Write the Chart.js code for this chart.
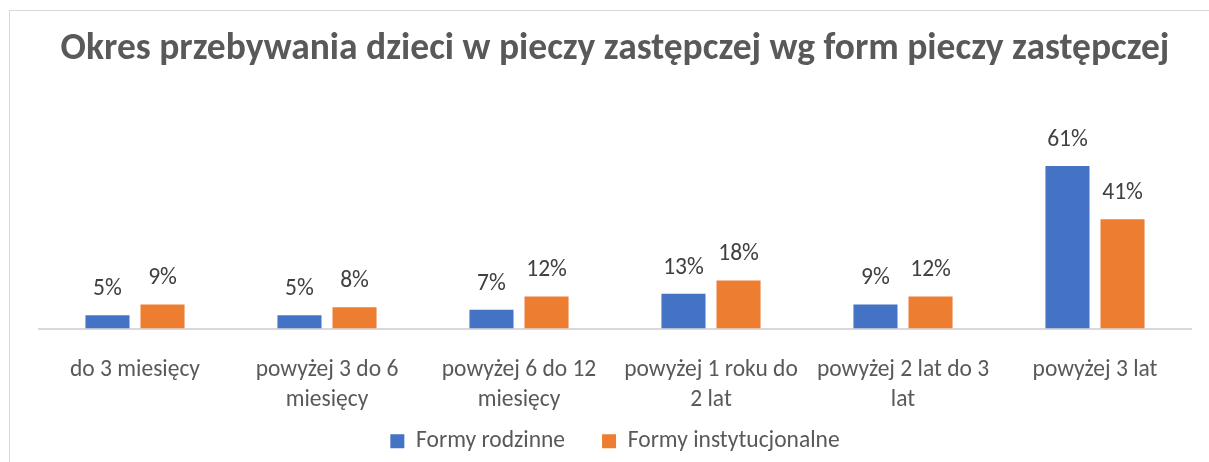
<!DOCTYPE html>
<html lang="pl">
<head>
<meta charset="utf-8">
<title>Okres przebywania dzieci w pieczy zastępczej</title>
<script src="https://cdn.jsdelivr.net/npm/chart.js@4/dist/chart.umd.min.js"></script>
<style>
  html, body { margin: 0; padding: 0; background: #fff; overflow: hidden; }
  .chart-box {
    position: absolute; left: 9px; top: 10px;
    width: 1212px; height: 502px;
    border: 1px solid #d9d9d9;
  }
  canvas { display: block; }
</style>
</head>
<body>
<div class="chart-box"><canvas id="okresChart" width="1212" height="502"></canvas></div>
<script>
// ─── DATA ──────────────────────────────────────────────────
const TITLE = 'Okres przebywania dzieci w pieczy zastępczej wg form pieczy zastępczej';

const categories = [
  ['do 3 miesięcy'],
  ['powyżej 3 do 6', 'miesięcy'],
  ['powyżej 6 do 12', 'miesięcy'],
  ['powyżej 1 roku do', '2 lat'],
  ['powyżej 2 lat do 3', 'lat'],
  ['powyżej 3 lat'],
];

const formyRodzinne        = [5, 5, 7, 13, 9, 61];
const formyInstytucjonalne = [9, 8, 12, 18, 12, 41];

const seriesNames = ['Formy rodzinne', 'Formy instytucjonalne'];

// ─── STYLE ─────────────────────────────────────────────────
const FONT   = "'Carlito', 'Lato', sans-serif";
const BLUE   = '#4472C4';
const ORANGE = '#ED7D31';
const TEXT_SIZE = 23.5;

// fit the bold title to the width it takes in the original
function fitTitleSize(text, targetWidth) {
  const ctx = document.createElement('canvas').getContext('2d');
  ctx.font = `bold 100px ${FONT}`;
  return Math.round(100 * targetWidth / ctx.measureText(text).width * 10) / 10;
}

// ─── PLUGINS ───────────────────────────────────────────────
const valueLabels = {
  id: 'valueLabels',
  afterDatasetsDraw(chart) {
    const { ctx } = chart;
    ctx.save();
    ctx.font = `${TEXT_SIZE}px ${FONT}`;
    ctx.fillStyle = '#404040';
    ctx.textAlign = 'center';
    ctx.textBaseline = 'middle';
    chart.data.datasets.forEach((ds, i) => {
      chart.getDatasetMeta(i).data.forEach((bar, j) => {
        ctx.fillText(ds.data[j] + '%', bar.x, bar.y - 26);
      });
    });
    ctx.restore();
  },
};

// legend padding is wide between the items but the row sits closer to the axis labels
const legendNudge = {
  id: 'legendNudge',
  afterLayout(chart) {
    chart.legend.top    -= 50;
    chart.legend.bottom -= 50;
  },
};

// ─── CHART ─────────────────────────────────────────────────
new Chart(document.getElementById('okresChart'), {
  type: 'bar',
  data: {
    labels: categories,
    datasets: [
      { label: seriesNames[0], data: formyRodzinne,        backgroundColor: BLUE },
      { label: seriesNames[1], data: formyInstytucjonalne, backgroundColor: ORANGE },
    ],
  },
  options: {
    responsive: false,
    animation: false,
    categoryPercentage: 0.5735,
    barPercentage: 0.8,
    layout: { padding: { left: 29, right: 31, top: 0, bottom: 0 } },
    plugins: {
      title: {
        display: true,
        text: TITLE,
        color: '#595959',
        font: { family: FONT, size: fitTitleSize(TITLE, 1108), weight: 'bold' },
        padding: { top: 16, bottom: 70 },
      },
      legend: {
        position: 'bottom',
        labels: {
          color: '#595959',
          font: { family: FONT, size: TEXT_SIZE },
          boxWidth: 14,
          boxHeight: 14,
          padding: 37,
        },
      },
      tooltip: { enabled: false },
    },
    scales: {
      x: {
        grid: { display: false, drawTicks: false },
        border: { display: true, color: '#d9d9d9', width: 2 },
        ticks: {
          color: '#595959',
          font: { family: FONT, size: TEXT_SIZE, lineHeight: 30 / TEXT_SIZE },
          padding: 27,
          maxRotation: 0,
          autoSkip: false,
        },
      },
      y: {
        display: false,
        min: 0,
        max: 70,
      },
    },
  },
  plugins: [valueLabels, legendNudge],
});
</script>
</body>
</html>
